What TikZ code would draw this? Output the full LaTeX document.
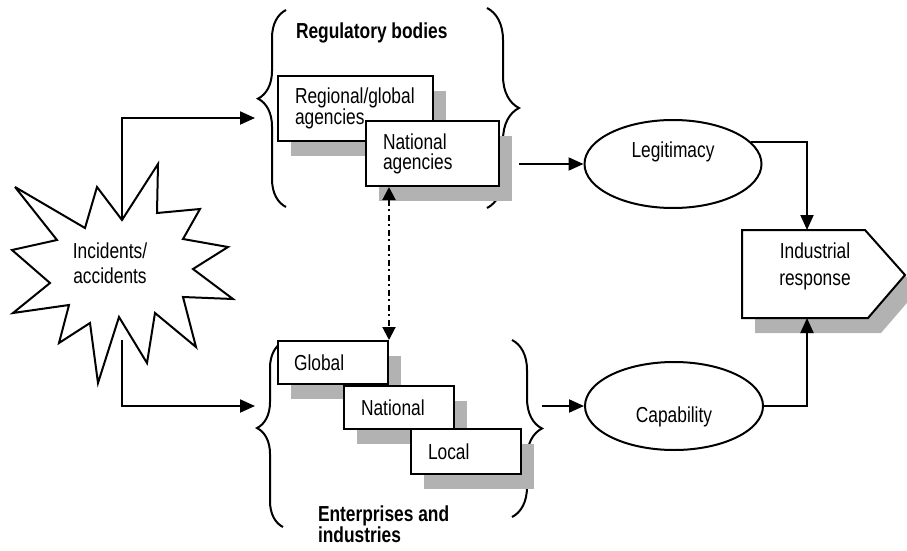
\documentclass[tikz,border=0pt]{standalone}
\usepackage{fontspec}
\setmainfont{Liberation Sans}[FakeStretch=0.8]
\usetikzlibrary{arrows.meta,decorations.pathreplacing,shapes.geometric,shadows,calc}
\begin{document}
\begin{tikzpicture}[x=1pt,y=-1pt, line width=2pt,
  every node/.style={font=\fontsize{21.7pt}{20pt}\selectfont},
  arr/.style={-{Triangle[length=15pt,width=13pt]}},
  shad/.style={drop shadow={shadow xshift=13pt,shadow yshift=-15pt,fill=gray!60,opacity=1,draw=none}},
  sbox/.style={draw, fill=white, shad, rectangle, anchor=north west, align=left, inner ysep=0pt, inner xsep=17pt},
  ell/.style={draw, ellipse, fill=white, inner sep=0pt},
  title/.style={font=\bfseries\fontsize{21.7pt}{21pt}\selectfont, inner sep=0pt}]
\useasboundingbox (0,0) rectangle (907,551);

% starburst
\draw[fill=white, miter limit=5] (15,187) -- (85,228) -- (97,187) -- (122,220) -- (158,164) -- (157,213) -- (200,209) -- (183,239) -- (228,247) -- (193,269) -- (233,299) -- (183,297) -- (196,347) -- (155,313) -- (147,363) -- (119,317) -- (98,383) -- (90,323) -- (59,343) -- (69,305) -- (13,313) -- (50,283) -- (12,250) -- (57,240) -- cycle;
\node[font=\fontsize{21.7pt}{25pt}\selectfont, align=center] (inc) at (110,263) {Incidents/\\accidents};

% braces
\draw[decorate, decoration={brace, amplitude=28pt, aspect=0.55}] (286,207) -- (286,10);
\draw[decorate, decoration={brace, amplitude=32pt, aspect=0.5}] (487,8) -- (487,208);
\draw[decorate, decoration={brace, amplitude=26pt, aspect=0.535}] (283,527) -- (283,342);
\draw[decorate, decoration={brace, amplitude=30pt, aspect=0.5}] (512,340) -- (512,517);

% titles
\node[title, anchor=base west] (regt) at (295,38) {Regulatory bodies};
\node[title, anchor=base west, align=left] (entt) at (317,542) {Enterprises and\\industries};

% boxes
\node[sbox, minimum width=155pt, minimum height=65pt, text width=121pt] (regag) at (277,75) {Regional/global\\agencies};
\node[sbox, minimum width=133pt, minimum height=65pt, text width=99pt] (natag) at (365,120) {National\\agencies};
\node[sbox, minimum width=110pt, minimum height=43pt, text width=78pt, inner xsep=16pt] (glob) at (277,340) {Global};
\node[sbox, minimum width=110pt, minimum height=43pt, text width=76pt] (natl) at (343,385) {National};
\node[sbox, minimum width=110pt, minimum height=45pt, text width=76pt] (locl) at (410,428) {Local};

% ellipses
\node[ell, minimum width=177pt, minimum height=88pt] (leg) at (673,164) {\raisebox{7pt}[0pt][0pt]{Legitimacy}};
\node[ell, minimum width=178pt, minimum height=88pt] (cap) at (674,406) {\raisebox{-16pt}[0pt][0pt]{Capability}};

% industrial response
\coordinate (ir1) at (742,230);
\coordinate (ir2) at (865,230);
\coordinate (ir3) at (905,275);
\coordinate (ir4) at (868,318);
\coordinate (ir5) at (742,318);
\draw[fill=white, shad] (ir1) -- (ir2) -- (ir3) -- (ir4) -- (ir5) -- cycle;
\node[font=\fontsize{21.7pt}{27pt}\selectfont, align=center] (ir) at (815,266) {Industrial\\response};
\coordinate (irT) at (807,230);
\coordinate (irB) at (807,318);

% connectors
\coordinate (bT) at (122,220);
\coordinate (bB) at (122,340);
\coordinate (rIn) at (255,118);
\coordinate (eIn) at (255,406);
\coordinate (rOut) at (519,164);
\coordinate (eOut) at (542,406);
\draw[arr] (bT) |- (rIn);
\draw[arr] (bB) |- (eIn);
\draw[arr] (rOut) -- (leg.west);
\draw[arr] (eOut) -- (cap.west);
\draw[arr] (leg.16) -| (irT);
\draw[arr] (cap.east) -| (irB);
\draw[{Triangle[length=13pt,width=13pt]}-{Triangle[length=13pt,width=13pt]}, dash pattern=on 6pt off 3.5pt on 2pt off 3.5pt] (natag.south west -| glob.north east) -- (glob.north east);
\end{tikzpicture}
\end{document}
